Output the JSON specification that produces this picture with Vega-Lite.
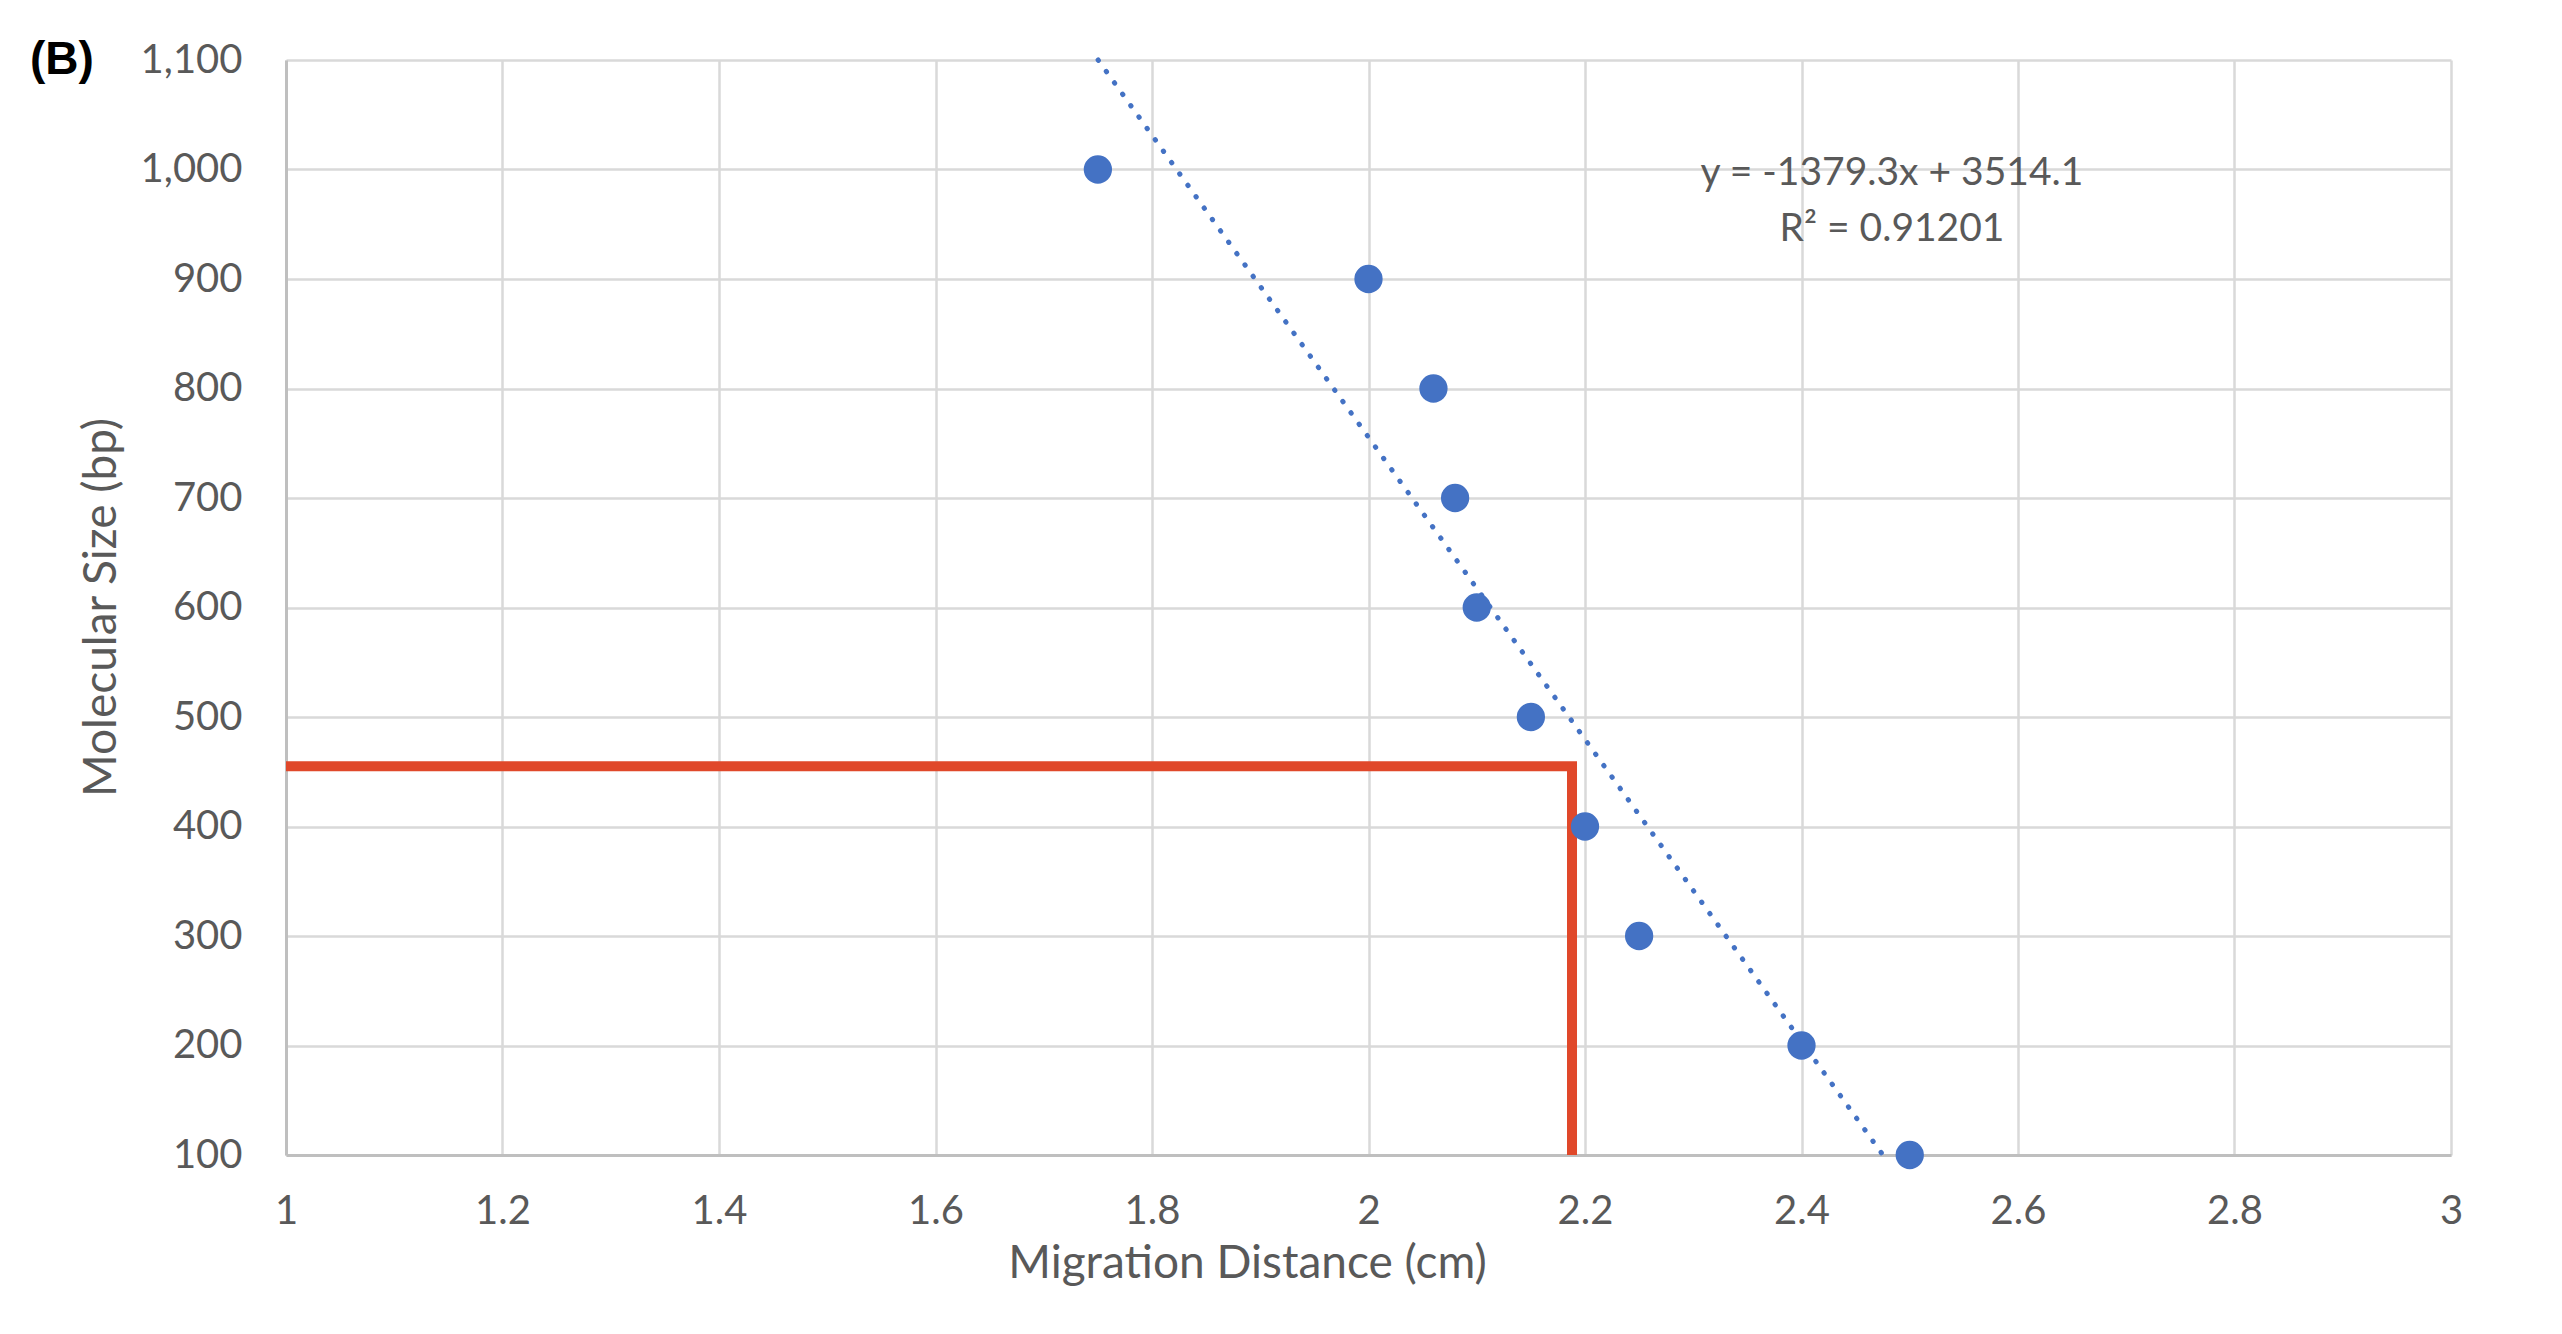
{
  "$schema": "https://vega.github.io/schema/vega-lite/v6.json",
  "width": 2165,
  "height": 1095,
  "autosize": {"type": "none"},
  "padding": {"left": 286, "top": 60, "right": 111, "bottom": 179},
  "background": "white",
  "config": {
    "view": {"stroke": null},
    "axis": {
      "labelFont": "Lato",
      "titleFont": "Lato",
      "labelColor": "#595959",
      "titleColor": "#595959",
      "labelFontSize": 40,
      "titleFontSize": 46,
      "titleFontWeight": "normal",
      "gridColor": "#D9D9D9",
      "gridWidth": 2.5,
      "domainColor": "#BFBFBF",
      "domainWidth": 3,
      "ticks": false,
      "labelFlush": false,
      "labelOverlap": false
    }
  },
  "datasets": {
    "points": [
      {"distance": 1.75, "size": 1000},
      {"distance": 2.0, "size": 900},
      {"distance": 2.06, "size": 800},
      {"distance": 2.08, "size": 700},
      {"distance": 2.1, "size": 600},
      {"distance": 2.15, "size": 500},
      {"distance": 2.2, "size": 400},
      {"distance": 2.25, "size": 300},
      {"distance": 2.4, "size": 200},
      {"distance": 2.5, "size": 100}
    ],
    "trend": [
      {"distance": 1.7502, "size": 1100},
      {"distance": 2.4752, "size": 100}
    ],
    "marker": [
      {"distance": 1.0, "size": 455, "order": 1},
      {"distance": 2.188, "size": 455, "order": 2},
      {"distance": 2.188, "size": 100, "order": 3}
    ],
    "equation": [
      {"distance": 2.4836, "size": 997, "label": "y = -1379.3x + 3514.1"},
      {"distance": 2.4836, "size": 946, "label": "R² = 0.91201"}
    ],
    "panel": [
      {"distance": 0.7635, "size": 1100, "label": "(B)"}
    ]
  },
  "layer": [
    {
      "data": {"name": "marker"},
      "mark": {"type": "line", "color": "#E0482A", "strokeWidth": 10, "strokeJoin": "miter", "strokeCap": "butt"},
      "encoding": {
        "x": {
          "field": "distance", "type": "quantitative",
          "scale": {"domain": [1, 3], "nice": false, "zero": false},
          "axis": {
            "title": "Migration Distance (cm)",
            "values": [1, 1.2, 1.4, 1.6, 1.8, 2, 2.2, 2.4, 2.6, 2.8, 3],
            "format": "~g",
            "labelPadding": 36,
            "titleX": 961,
            "titleY": 108,
            "titleBaseline": "middle",
            "titleAnchor": null,
            "grid": true
          }
        },
        "y": {
          "field": "size", "type": "quantitative",
          "scale": {"domain": [100, 1100], "nice": false, "zero": false},
          "axis": {
            "title": "Molecular Size (bp)",
            "values": [100, 200, 300, 400, 500, 600, 700, 800, 900, 1000, 1100],
            "format": ",.0f",
            "labelPadding": 44,
            "titleX": -185,
            "titleY": 547,
            "titleBaseline": "middle",
            "titleAlign": "center",
            "grid": true
          }
        },
        "order": {"field": "order", "type": "quantitative"}
      }
    },
    {
      "data": {"name": "trend"},
      "mark": {"type": "line", "color": "#4472C4", "strokeWidth": 5, "strokeCap": "round", "strokeDash": [0.5, 13.5]},
      "encoding": {
        "x": {"field": "distance", "type": "quantitative"},
        "y": {"field": "size", "type": "quantitative"}
      }
    },
    {
      "data": {"name": "points"},
      "mark": {"type": "circle", "color": "#4472C4", "opacity": 1, "size": 800},
      "encoding": {
        "x": {"field": "distance", "type": "quantitative"},
        "y": {"field": "size", "type": "quantitative"}
      }
    },
    {
      "data": {"name": "equation"},
      "mark": {"type": "text", "font": "Lato", "fontSize": 39, "color": "#595959", "align": "center", "baseline": "middle"},
      "encoding": {
        "x": {"field": "distance", "type": "quantitative"},
        "y": {"field": "size", "type": "quantitative"},
        "text": {"field": "label"}
      }
    },
    {
      "data": {"name": "panel"},
      "mark": {"type": "text", "font": "Liberation Sans", "fontWeight": "bold", "fontSize": 46, "color": "#000000", "align": "left", "baseline": "middle"},
      "encoding": {
        "x": {"field": "distance", "type": "quantitative"},
        "y": {"field": "size", "type": "quantitative"},
        "text": {"field": "label"}
      }
    }
  ]
}
